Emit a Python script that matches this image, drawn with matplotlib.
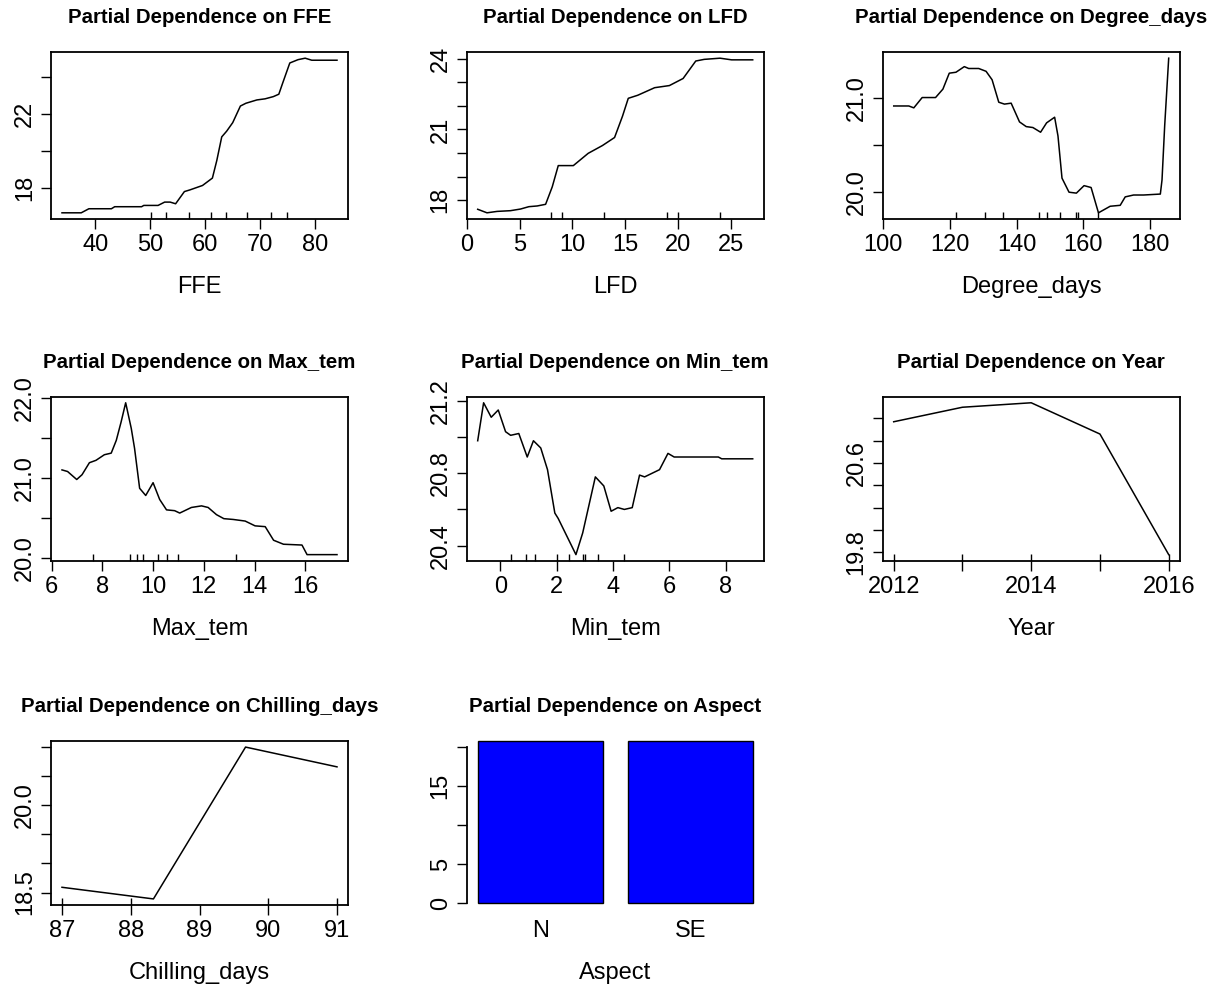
import matplotlib
matplotlib.use("Agg")
import matplotlib.pyplot as plt

plt.rcParams['font.family'] = ['Liberation Sans', 'DejaVu Sans']

# ---------------- data ----------------
ffe_x = [33.9, 37.4, 38.8, 42.9, 43.5, 48.4, 48.8, 51.4, 52.6, 53.6, 54.6, 56.2, 57.2, 59.5,
         61.3, 62.1, 63.0, 63.9, 65.0, 66.4, 67.4, 69.4, 70.9, 72.4, 73.4, 74.1, 75.4, 76.9,
         78.2, 79.4, 84.0]
ffe_y = [16.67, 16.67, 16.89, 16.89, 17.0, 17.0, 17.07, 17.07, 17.25, 17.25, 17.16, 17.82,
         17.91, 18.15, 18.55, 19.5, 20.78, 21.09, 21.55, 22.45, 22.6, 22.78, 22.84, 22.96,
         23.09, 23.69, 24.78, 24.96, 25.04, 24.93, 24.93]
ffe_rug = [50.1, 52.8, 57.1, 61.0, 63.8, 67.6, 71.9, 74.8]

lfd_x = [1.02, 1.9, 2.86, 4.12, 5.08, 5.87, 6.66, 7.46, 8.09, 8.66, 10.09, 11.5, 12.85, 14.0,
         14.75, 15.3, 16.2, 17.8, 19.2, 20.5, 21.7, 22.5, 24.0, 25.1, 27.1]
lfd_y = [17.62, 17.47, 17.53, 17.56, 17.63, 17.73, 17.76, 17.83, 18.57, 19.47, 19.47, 19.99,
         20.32, 20.66, 21.56, 22.32, 22.45, 22.77, 22.86, 23.16, 23.9, 23.97, 24.02, 23.95, 23.95]
lfd_rug = [8, 9, 13, 19, 20, 24]

deg_x = [103.3, 107.8, 109.3, 111.8, 115.8, 118.0, 119.9, 121.9, 124.4, 125.7, 128.7, 130.9,
         132.7, 134.7, 136.4, 138.4, 140.9, 142.9, 144.9, 147.2, 149.0, 151.4, 152.4, 153.6,
         155.7, 157.9, 160.2, 162.3, 164.5, 166.0, 168.0, 171.0, 172.5, 175.0, 178.0, 183.0,
         183.5, 184.3, 185.5]
deg_y = [20.92, 20.92, 20.90, 21.01, 21.01, 21.10, 21.27, 21.28, 21.34, 21.32, 21.32, 21.29,
         21.20, 20.96, 20.94, 20.95, 20.75, 20.70, 20.69, 20.64, 20.74, 20.80, 20.60, 20.15,
         20.00, 19.99, 20.07, 20.05, 19.78, 19.81, 19.85, 19.86, 19.95, 19.97, 19.97, 19.98,
         20.13, 20.71, 21.43]
deg_rug = [121.9, 130.6, 135.9, 146.7, 149.1, 152.9, 157.9, 158.5, 164.5]

maxt_x = [6.41, 6.63, 6.99, 7.2, 7.49, 7.75, 8.08, 8.35, 8.55, 8.74, 8.92, 9.14, 9.27, 9.47,
          9.71, 10.0, 10.26, 10.53, 10.85, 11.05, 11.51, 11.91, 12.17, 12.5, 12.79, 13.16,
          13.63, 14.02, 14.42, 14.75, 15.14, 15.87, 16.07, 17.25]
maxt_y = [21.10, 21.08, 20.98, 21.04, 21.19, 21.22, 21.29, 21.31, 21.47, 21.70, 21.94, 21.62,
          21.37, 20.87, 20.78, 20.94, 20.73, 20.60, 20.59, 20.56, 20.63, 20.65, 20.63, 20.54,
          20.49, 20.48, 20.46, 20.40, 20.39, 20.22, 20.17, 20.16, 20.04, 20.04]
maxt_rug = [7.65, 9.11, 9.36, 9.60, 10.21, 10.55, 10.99, 13.26]

mint_x = [-0.81, -0.60, -0.33, -0.08, 0.18, 0.36, 0.65, 0.95, 1.17, 1.43, 1.67, 1.93, 2.05,
          2.68, 2.92, 3.37, 3.67, 3.93, 4.17, 4.40, 4.68, 4.94, 5.12, 5.65, 5.95, 6.17, 7.74,
          7.86, 8.96]
mint_y = [20.98, 21.19, 21.11, 21.15, 21.03, 21.01, 21.02, 20.89, 20.98, 20.94, 20.82, 20.58,
          20.55, 20.35, 20.47, 20.78, 20.73, 20.59, 20.61, 20.60, 20.61, 20.79, 20.78, 20.82,
          20.91, 20.89, 20.89, 20.88, 20.88]
mint_rug = [0.36, 0.89, 1.23, 2.0, 2.42, 2.92, 3.0, 3.48, 4.40]

year_x = [2012, 2013, 2014, 2015, 2016]
year_y = [20.97, 21.10, 21.14, 20.86, 19.78]
year_rug = [2012, 2013, 2014, 2015, 2016]

chill_x = [87.0, 88.33, 89.67, 91.0]
chill_y = [18.59, 18.39, 21.0, 20.66]
chill_rug = [87, 88, 90, 91]

aspect_cats = ['N', 'SE']
aspect_vals = [20.77, 20.77]

# tick specs (values, labels)
panels = [
    dict(name='FFE', x=ffe_x, y=ffe_y, rug=ffe_rug,
         xt=[40, 50, 60, 70, 80], xl=['40', '50', '60', '70', '80'],
         yt=[18, 20, 22, 24], yl=['18', '', '22', '']),
    dict(name='LFD', x=lfd_x, y=lfd_y, rug=lfd_rug,
         xt=[0, 5, 10, 15, 20, 25], xl=['0', '5', '10', '15', '20', '25'],
         yt=[18, 19, 20, 21, 22, 23, 24], yl=['18', '', '', '21', '', '', '24']),
    dict(name='Degree_days', x=deg_x, y=deg_y, rug=deg_rug,
         xt=[100, 120, 140, 160, 180], xl=['100', '120', '140', '160', '180'],
         yt=[20.0, 20.5, 21.0], yl=['20.0', '', '21.0']),
    dict(name='Max_tem', x=maxt_x, y=maxt_y, rug=maxt_rug,
         xt=[6, 8, 10, 12, 14, 16], xl=['6', '8', '10', '12', '14', '16'],
         yt=[20.0, 20.5, 21.0, 21.5, 22.0], yl=['20.0', '', '21.0', '', '22.0']),
    dict(name='Min_tem', x=mint_x, y=mint_y, rug=mint_rug,
         xt=[0, 2, 4, 6, 8], xl=['0', '2', '4', '6', '8'],
         yt=[20.4, 20.6, 20.8, 21.0, 21.2], yl=['20.4', '', '20.8', '', '21.2']),
    dict(name='Year', x=year_x, y=year_y, rug=year_rug,
         xt=[2012, 2013, 2014, 2015, 2016], xl=['2012', '', '2014', '', '2016'],
         yt=[19.8, 20.0, 20.2, 20.4, 20.6, 20.8, 21.0],
         yl=['19.8', '', '', '', '20.6', '', '']),
    dict(name='Chilling_days', x=chill_x, y=chill_y, rug=chill_rug,
         xt=[87, 88, 89, 90, 91], xl=['87', '88', '89', '90', '91'],
         yt=[18.5, 19.0, 19.5, 20.0, 20.5, 21.0], yl=['18.5', '', '', '20.0', '', '']),
]

W, H = 1218, 988
fig = plt.figure(figsize=(W / 100, H / 100), dpi=100)

col_left = [51, 466.7, 882.7]
col_w = 297
row_top = [52, 396.7, 741]
row_h = [167, 164, 164]

PX = 0.72  # points per pixel
TITLE_FS = 14.7
TICK_FS = 17
LAB_FS = 17


def make_ax(i):
    r, c = divmod(i, 3)
    l = col_left[c]
    t = row_top[r]
    h = row_h[r]
    return fig.add_axes([l / W, 1 - (t + h) / H, col_w / W, h / H])


def decorate(ax, name):
    ax.annotate('Partial Dependence on ' + name, xy=(0.5, 1), xycoords='axes fraction',
                xytext=(0, 29 * PX), textcoords='offset points',
                ha='center', va='baseline', fontsize=TITLE_FS, fontweight='bold')
    ax.annotate(name, xy=(0.5, 0), xycoords='axes fraction',
                xytext=(0, -74 * PX), textcoords='offset points',
                ha='center', va='baseline', fontsize=LAB_FS)


for i, p in enumerate(panels):
    ax = make_ax(i)
    ax.plot(p['x'], p['y'], color='black', lw=1.1)
    ax.margins(x=0.04, y=0.04)
    ax.set_xticks(p['xt'])
    ax.set_xticklabels(p['xl'])
    ax.set_yticks(p['yt'])
    ax.set_yticklabels(p['yl'])
    ax.set_xticks(p['rug'], minor=True)
    ax.xaxis.remove_overlapping_locs = False
    ax.tick_params(axis='both', which='major', direction='out', length=10 * PX, width=1.0,
                   labelsize=TICK_FS, pad=5 * PX)
    ax.tick_params(axis='x', which='minor', direction='in', length=7 * PX, width=1.0)
    ax.tick_params(axis='y', labelrotation=90)
    for lab in ax.get_yticklabels():
        lab.set_va('center')
    for s in ax.spines.values():
        s.set_linewidth(1.3)
    decorate(ax, p['name'])

# bar panel
ax = make_ax(7)
pos = [0.7, 1.9]
ax.bar(pos, aspect_vals, width=1.0, color='#0000ff', edgecolor='black', linewidth=1.0,
       clip_on=False)
ax.set_xlim(0.112, 2.488)
ax.set_ylim(-0.2, max(aspect_vals))
ax.set_xticks(pos)
ax.set_xticklabels(aspect_cats)
ax.set_yticks([0, 5, 10, 15, 20])
ax.set_yticklabels(['0', '5', '', '15', ''])
for s in ['top', 'right', 'bottom']:
    ax.spines[s].set_visible(False)
ax.spines['left'].set_bounds(0, 20)
ax.spines['left'].set_linewidth(1.3)
ax.tick_params(axis='y', direction='out', length=10 * PX, width=1.0, labelsize=TICK_FS,
               pad=5 * PX, labelrotation=90)
ax.tick_params(axis='x', length=0, labelsize=TICK_FS, pad=15 * PX)
for lab in ax.get_yticklabels():
    lab.set_va('center')
decorate(ax, 'Aspect')

fig.savefig('out.png', dpi=100)
